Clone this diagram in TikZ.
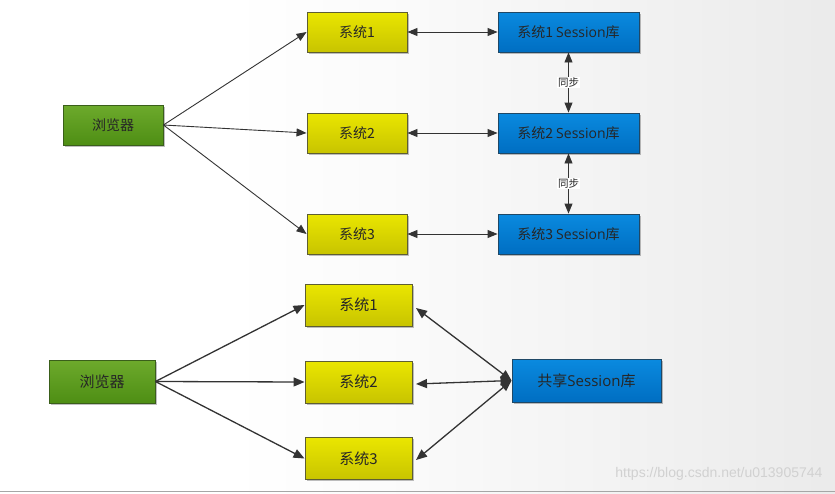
\documentclass[tikz,border=0pt]{standalone}
\usepackage{fontspec}
\setmainfont{Noto Sans CJK SC}
\newfontfamily\wmfont{Liberation Sans}
\newfontfamily\latinf{Open Sans}
\usetikzlibrary{arrows.meta,shadows}
\definecolor{lnc}{HTML}{333333}
\definecolor{gtop}{HTML}{6DAA2C}
\definecolor{gbot}{HTML}{4E8E14}
\definecolor{gbd}{HTML}{3A5F1A}
\definecolor{ytop}{HTML}{EAE600}
\definecolor{ybot}{HTML}{C8C400}
\definecolor{ybd}{HTML}{5E5E32}
\definecolor{btop}{HTML}{0A8ADF}
\definecolor{bbot}{HTML}{006EC2}
\definecolor{bbd}{HTML}{1F4866}
\tikzset{
  box/.style={draw, line width=0.9pt, inner sep=0pt, text=black!85,
    drop shadow={shadow xshift=1.5pt, shadow yshift=-1.5pt, opacity=0.25, fill=black}},
  greenbox/.style={box, draw=gbd, top color=gtop, bottom color=gbot},
  yellowbox/.style={box, draw=ybd, top color=ytop, bottom color=ybot},
  bluebox/.style={box, draw=bbd, top color=btop, bottom color=bbot},
  conn/.style={draw=lnc, line width=0.9pt, -{Triangle[length=10pt,width=8pt]}},
  dconn/.style={draw=lnc, line width=0.9pt, {Triangle[length=10pt,width=8pt]}-{Triangle[length=10pt,width=8pt]}},
  conn2/.style={draw=lnc, line width=1.3pt, -{Triangle[length=11pt,width=9pt]}},
  dconn2/.style={draw=lnc, line width=1.3pt, {Triangle[length=11pt,width=9pt]}-{Triangle[length=11pt,width=9pt]}},
  synclabel/.style={fill=white, inner sep=1pt, font=\fontsize{10.5}{11}\selectfont, text=black!85},
  topfont/.style={font=\fontsize{14}{16}\selectfont},
  botfont/.style={font=\fontsize{15}{17}\selectfont},
}
\begin{document}
\begin{tikzpicture}[x=1pt,y=-1pt]
\useasboundingbox (0,0) rectangle (835,493);
\fill[white] (0,0) rectangle (230,493);
\shade[left color=white, right color=black!2] (230,0) rectangle (418,493);
\shade[left color=black!2, right color=black!8] (417.5,0) rectangle (835,493);
\draw[black!35, line width=1.5pt] (0,491.5) -- (835,491.5);

% top section
\node[greenbox, topfont, minimum width=100pt, minimum height=40pt] (b1) at (113,125) {浏览器};
\node[yellowbox, topfont, minimum width=100pt, minimum height=40pt] (s1) at (357,32) {系统1};
\node[yellowbox, topfont, minimum width=100pt, minimum height=40pt] (s2) at (357,133) {系统2};
\node[yellowbox, topfont, minimum width=100pt, minimum height=40pt] (s3) at (357,234) {系统3};
\node[bluebox, topfont, minimum width=141pt, minimum height=40pt] (d1) at (568.5,32) {系统1 {\latinf Session}库};
\node[bluebox, topfont, minimum width=141pt, minimum height=40pt] (d2) at (568.5,133) {系统2 {\latinf Session}库};
\node[bluebox, topfont, minimum width=141pt, minimum height=40pt] (d3) at (568.5,234) {系统3 {\latinf Session}库};

\draw[conn] (b1.east) -- (s1.west);
\draw[conn] (b1.east) -- (s2.west);
\draw[conn] (b1.east) -- (s3.west);
\draw[dconn] (s1.east) -- (d1.west);
\draw[dconn] (s2.east) -- (d2.west);
\draw[dconn] (s3.east) -- (d3.west);
\draw[dconn] (d1.south) -- node[synclabel] (y1) {同步} (d2.north);
\draw[dconn] (d2.south) -- node[synclabel] (y2) {同步} (d3.north);

% bottom section
\node[greenbox, botfont, minimum width=106pt, minimum height=43pt] (b2) at (102,381.5) {浏览器};
\node[yellowbox, botfont, minimum width=107pt, minimum height=42pt] (t1) at (358.5,305) {系统1};
\node[yellowbox, botfont, minimum width=107pt, minimum height=42pt] (t2) at (358.5,382) {系统2};
\node[yellowbox, botfont, minimum width=107pt, minimum height=42pt] (t3) at (358.5,458.5) {系统3};
\node[bluebox, botfont, minimum width=149pt, minimum height=43pt] (sh) at (586.5,380.5) {共享{\latinf Session}库};

\draw[conn2] (b2.east) -- (t1.west);
\draw[conn2] (b2.east) -- (t2.west);
\draw[conn2] (b2.east) -- (t3.west);
\coordinate (e1) at (416,308);
\coordinate (e2) at (416,384);
\coordinate (e3) at (416,460);
\draw[dconn2] (e1) -- (sh.west);
\draw[dconn2] (e2) -- (sh.west);
\draw[dconn2] (e3) -- (sh.west);

\node[font=\wmfont\fontsize{14}{16}\selectfont, text=black!18, anchor=east] (wm) at (826,474) {https://blog.csdn.net/u013905744};
\end{tikzpicture}
\end{document}
